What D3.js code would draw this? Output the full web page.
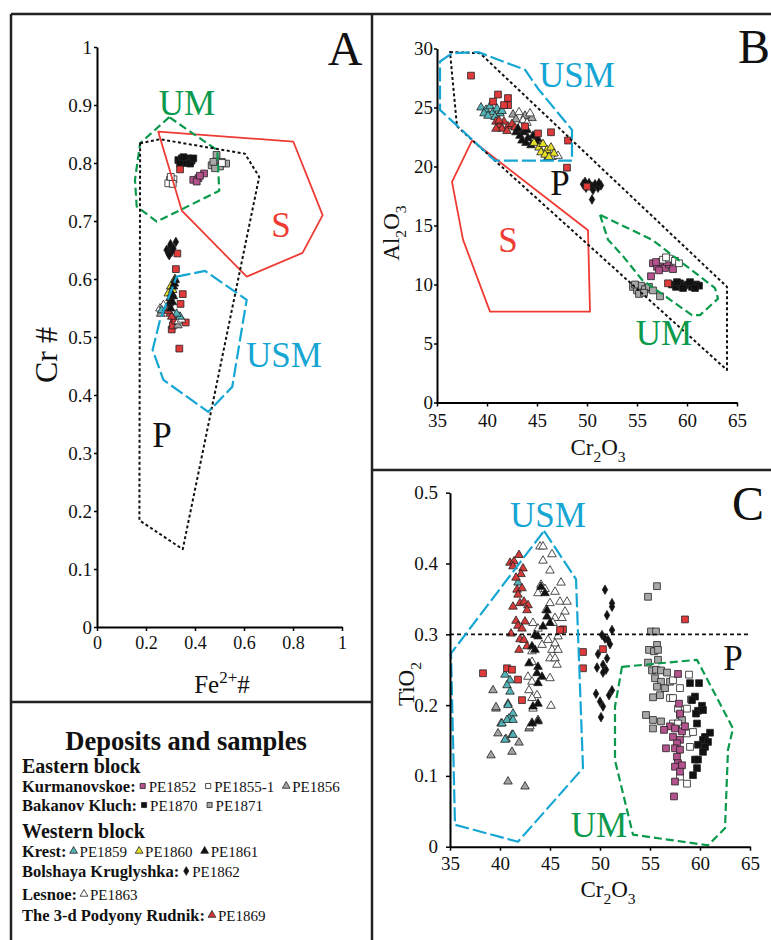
<!DOCTYPE html>
<html>
<head>
<meta charset="utf-8">
<script src="https://cdn.jsdelivr.net/npm/d3@7"></script>
<style>
body { margin: 0; background: #fff; }
text { font-family: "Liberation Serif", "Times New Roman", serif; }
</style>
</head>
<body>
<svg id="fig"></svg>
<script>
var W = 771, H = 940;

// ---- tick values ----
var A_X_TICKS = [0, 0.2, 0.4, 0.6, 0.8, 1];
var A_Y_TICKS = [0, 0.1, 0.2, 0.3, 0.4, 0.5, 0.6, 0.7, 0.8, 0.9, 1];
var B_X_TICKS = [35, 40, 45, 50, 55, 60, 65];
var B_Y_TICKS = [0, 5, 10, 15, 20, 25, 30];
var C_X_TICKS = [35, 40, 45, 50, 55, 60, 65];
var C_Y_TICKS = [0, 0.1, 0.2, 0.3, 0.4, 0.5];

// ---- fields (Fe2+# vs Cr#) ----
var A_UM = [[0.295,0.879],[0.176,0.834],[0.155,0.771],[0.162,0.725],[0.244,0.699],[0.499,0.752],[0.491,0.822]];
var A_S = [[0.250,0.854],[0.801,0.837],[0.921,0.710],[0.839,0.645],[0.611,0.604],[0.346,0.718]];
var A_P = [[0.176,0.834],[0.257,0.841],[0.604,0.816],[0.662,0.776],[0.350,0.134],[0.173,0.184]];
var A_USM = [[0.325,0.604],[0.441,0.614],[0.611,0.564],[0.597,0.529],[0.552,0.414],[0.454,0.371],[0.271,0.426],[0.227,0.478],[0.257,0.529]];

// ---- fields (Cr2O3 vs Al2O3) ----
var B_USM = [[35.3,28.9],[36.5,29.6],[39.1,29.7],[43.8,28.2],[45.1,26.6],[48.5,23.1],[48.5,20.5],[40.8,20.5],[35.3,24.8]];
var B_P = [[36.3,29.7],[39.3,29.6],[64.0,9.8],[64.0,2.75],[37.0,23.4]];
var B_S = [[38.5,22.2],[50.1,14.6],[50.3,7.7],[40.3,7.7],[37.6,13.8],[36.5,18.7]];
var B_UM = [[51.3,15.9],[52.1,13.8],[53.6,12.4],[55.5,10.4],[60.5,7.4],[61.3,7.4],[63.1,8.8],[62.8,9.7],[56.5,13.8]];

// ---- fields (Cr2O3 vs TiO2) ----
var C_USM = [[44.4,0.446],[47.6,0.378],[48.3,0.111],[41.8,0.007],[35.5,0.031],[35.1,0.273]];
var C_UM = [[52.2,0.254],[59.7,0.264],[63.3,0.167],[62.8,0.137],[62.5,0.026],[60.8,0.002],[53.3,0.017],[51.5,0.122],[51.5,0.198]];
var C_LIMIT = 0.3;

// ---- samples, panel A ----
var A_PE1870 = [[0.332,0.805],[0.346,0.808],[0.359,0.805],[0.373,0.808],[0.386,0.804],[0.339,0.799],[0.366,0.800],[0.380,0.799],[0.353,0.810],[0.393,0.808]];
var A_RED = [[0.339,0.789],[0.328,0.644],[0.322,0.617],[0.350,0.574],[0.341,0.557],[0.314,0.525],[0.362,0.525],[0.305,0.513],[0.336,0.480],[0.310,0.520],[0.320,0.528]];
var A_PE1855 = [[0.298,0.771],[0.312,0.772],[0.291,0.765],[0.309,0.764],[0.301,0.776],[0.510,0.800]];
var A_PE1852 = [[0.393,0.771],[0.414,0.774],[0.437,0.782],[0.407,0.768],[0.420,0.778]];
var A_PE1871 = [[0.468,0.796],[0.488,0.799],[0.502,0.794],[0.482,0.791],[0.527,0.799],[0.488,0.814],[0.509,0.802],[0.475,0.802]];
var A_PE1862 = [[0.322,0.664],[0.298,0.656],[0.284,0.650],[0.305,0.647],[0.291,0.644],[0.312,0.653],[0.295,0.641],[0.300,0.660]];
var A_PE1861 = [[0.319,0.598],[0.312,0.587],[0.305,0.575],[0.298,0.567],[0.312,0.570],[0.295,0.558],[0.301,0.549],[0.316,0.592],[0.308,0.560]];
var A_PE1860 = [[0.301,0.587],[0.291,0.575],[0.309,0.581],[0.318,0.600]];
var A_PE1859 = [[0.264,0.546],[0.339,0.535],[0.325,0.540],[0.285,0.550]];
var A_PE1863 = [[0.257,0.549],[0.271,0.555],[0.332,0.527],[0.345,0.530]];
var A_PE1856 = [[0.260,0.540],[0.330,0.520]];
var A_PE1869 = [[0.298,0.540],[0.305,0.535],[0.290,0.545]];

// ---- samples, panel B ----
var B_RED = [[38.4,27.7],[41.1,26.1],[40.6,25.5],[42.1,25.8],[42.1,25.2],[41.7,25.2],[43.8,23.4],[45.1,22.8],[46.4,22.9],[48.1,22.2],[48.0,19.9],[50.0,18.3],[58.1,10.1]];
var B_PE1859 = [[39.4,25.0],[39.9,24.8],[40.3,25.1],[40.6,24.6],[41.0,24.9],[41.3,24.5],[39.7,24.5],[40.1,24.3],[40.8,24.2],[41.5,24.7]];
var B_PE1869 = [[40.9,23.8],[41.3,23.5],[41.7,23.8],[42.1,23.4],[41.5,23.2],[42.5,23.6],[40.9,23.2],[42.0,23.0],[42.8,23.3],[41.2,23.9]];
var B_PE1856 = [[42.6,24.4],[43.8,24.3],[42.9,24.0],[44.5,24.1]];
var B_PE1863 = [[43.2,24.6],[44.3,24.5],[43.6,23.9],[44.0,23.7],[43.3,23.4],[46.5,20.8],[47.1,20.9]];
var B_PE1861 = [[42.9,22.9],[43.3,22.6],[43.7,22.9],[44.1,22.4],[43.5,22.2],[44.6,22.6],[44.9,22.1],[43.9,22.0],[44.4,21.8],[45.1,22.3],[43.1,23.2],[44.0,23.1],[46.1,20.8]];
var B_PE1860 = [[44.7,22.0],[45.2,21.6],[45.6,21.9],[46.0,21.4],[45.4,21.2],[46.4,21.6],[46.7,21.1],[45.8,21.0],[46.2,20.8]];
var B_PE1862 = [[49.6,18.5],[49.9,18.2],[50.2,18.6],[50.5,18.3],[50.8,18.5],[51.1,18.2],[51.4,18.4],[49.8,18.7],[50.6,18.0],[51.2,18.6],[50.5,17.2]];
var B_PE1852 = [[56.6,11.8],[57.0,11.5],[57.4,11.9],[57.8,11.4],[58.2,11.7],[58.6,11.3],[57.2,11.2],[58.0,11.9],[56.9,11.9],[56.4,10.7]];
var B_PE1855 = [[57.6,12.1],[58.2,12.2],[58.8,12.0],[59.2,11.8],[57.9,12.3]];
var B_PE1870 = [[58.5,10.0],[58.9,9.8],[59.3,10.1],[59.7,9.9],[60.1,10.0],[60.5,9.8],[60.9,10.0],[61.2,9.9],[59.0,10.2],[60.3,10.2],[59.6,9.7],[60.8,9.7]];
var B_PE1871 = [[54.6,9.8],[55.0,9.5],[55.4,9.9],[55.8,9.6],[56.2,9.8],[56.6,9.5],[55.2,9.2],[54.8,10.0],[55.7,9.3],[57.3,9.0]];

// ---- samples, panel C ----
var C_PE1869 = [[41.0,0.401],[41.4,0.403],[41.9,0.412],[41.3,0.396],[42.3,0.393],[42.1,0.385],[41.6,0.380],[41.7,0.363],[42.2,0.365],[41.8,0.356],[41.3,0.339],[42.0,0.344],[42.4,0.346],[42.8,0.341],[42.7,0.334],[41.6,0.319],[41.8,0.312],[42.5,0.318],[42.2,0.308],[41.1,0.301],[42.0,0.293],[42.4,0.292],[41.9,0.278],[42.7,0.283]];
var C_RED = [[38.3,0.245],[40.7,0.252],[41.2,0.250],[41.8,0.236],[42.2,0.207],[46.3,0.307],[46.0,0.306],[58.5,0.321],[50.3,0.279],[48.3,0.275],[48.3,0.252]];
var C_PE1863 = [[44.0,0.424],[44.3,0.424],[45.2,0.413],[44.3,0.404],[45.0,0.390],[46.1,0.373],[44.1,0.370],[44.5,0.364],[43.8,0.358],[45.5,0.360],[46.0,0.346],[46.7,0.346],[45.0,0.344],[44.6,0.334],[46.5,0.332],[45.5,0.323],[46.2,0.323],[45.3,0.316],[43.3,0.316],[43.8,0.308],[45.8,0.297],[44.8,0.292],[44.2,0.285],[45.5,0.287],[45.2,0.278],[45.8,0.278],[43.2,0.276],[45.0,0.266],[45.5,0.266],[43.2,0.261],[45.7,0.257],[42.8,0.240],[45.0,0.238],[43.2,0.233],[42.9,0.221],[43.7,0.214],[43.2,0.210],[43.8,0.179],[43.0,0.170],[43.2,0.175],[45.1,0.199],[43.3,0.195]];
var C_PE1856 = [[39.3,0.221],[39.6,0.195],[39.6,0.197],[40.8,0.202],[40.1,0.174],[39.8,0.160],[40.6,0.152],[41.2,0.158],[41.2,0.134],[41.9,0.147],[39.1,0.129],[40.8,0.092],[42.5,0.085],[42.9,0.167]];
var C_PE1859 = [[41.8,0.373],[40.5,0.243],[41.0,0.235],[40.7,0.228],[41.0,0.219],[40.8,0.200],[41.3,0.188],[40.9,0.181],[40.2,0.174],[40.7,0.179],[41.3,0.179],[41.3,0.158],[40.5,0.151]];
var C_PE1861 = [[44.1,0.367],[44.5,0.358],[44.7,0.325],[44.3,0.311],[43.5,0.299],[43.8,0.297],[43.2,0.283],[43.5,0.278],[42.9,0.259],[43.8,0.254],[43.7,0.245],[44.2,0.240],[43.8,0.231],[43.3,0.198],[43.8,0.202],[45.0,0.316],[44.7,0.334],[43.8,0.177],[43.2,0.174]];
var C_PE1862 = [[50.5,0.363],[51.2,0.344],[51.2,0.339],[50.7,0.327],[51.2,0.306],[50.2,0.299],[50.5,0.294],[50.8,0.292],[51.0,0.286],[49.8,0.272],[50.7,0.266],[50.3,0.257],[49.7,0.253],[50.6,0.250],[50.3,0.246],[51.2,0.221],[50.9,0.214],[49.6,0.216],[50.0,0.205],[50.3,0.198],[50.1,0.183]];
var C_PE1871 = [[55.7,0.368],[54.8,0.353],[55.1,0.304],[55.6,0.304],[55.7,0.285],[54.9,0.278],[55.4,0.276],[55.8,0.278],[55.8,0.264],[54.8,0.260],[55.2,0.249],[55.6,0.250],[56.1,0.249],[56.7,0.246],[55.5,0.238],[56.1,0.233],[55.7,0.226],[56.5,0.224],[55.3,0.211],[56.0,0.214],[54.6,0.186],[55.3,0.179],[56.1,0.177],[55.3,0.167],[57.0,0.233],[58.0,0.186],[58.2,0.179]];
var C_PE1855 = [[57.3,0.235],[58.0,0.224],[58.9,0.243],[57.0,0.210],[57.3,0.210],[58.7,0.195],[57.8,0.195],[59.1,0.208],[57.3,0.174],[57.8,0.174],[58.3,0.167],[58.7,0.160],[59.3,0.162],[59.0,0.141],[58.0,0.099],[58.7,0.089]];
var C_PE1852 = [[57.8,0.244],[57.9,0.202],[58.0,0.188],[57.0,0.170],[56.4,0.165],[57.5,0.167],[58.2,0.163],[58.5,0.170],[57.3,0.155],[58.0,0.151],[57.7,0.146],[56.6,0.139],[57.5,0.139],[58.0,0.137],[57.7,0.127],[57.8,0.118],[57.5,0.113],[58.2,0.115],[58.0,0.106],[57.5,0.092],[57.4,0.071]];
var C_PE1870 = [[59.0,0.231],[59.9,0.231],[59.5,0.212],[59.2,0.207],[60.2,0.199],[59.8,0.192],[60.3,0.193],[59.6,0.188],[59.7,0.174],[60.5,0.155],[61.0,0.161],[60.3,0.151],[59.8,0.144],[60.8,0.148],[60.5,0.141],[60.3,0.134],[59.5,0.123],[59.8,0.123],[59.7,0.111],[59.3,0.101]];

// sample symbols
var SYM = {
  PE1852: { shape: d3.symbolSquare, fill: "#b4538e" },
  PE1855: { shape: d3.symbolSquare, fill: "#ffffff" },
  PE1856: { shape: d3.symbolTriangle, fill: "#a3a3a3" },
  PE1870: { shape: d3.symbolSquare, fill: "#111111" },
  PE1871: { shape: d3.symbolSquare, fill: "#a8a8a8" },
  PE1859: { shape: d3.symbolTriangle, fill: "#52b4b8" },
  PE1860: { shape: d3.symbolTriangle, fill: "#e6df2a" },
  PE1861: { shape: d3.symbolTriangle, fill: "#111111" },
  PE1862: { shape: d3.symbolDiamond, fill: "#111111" },
  PE1863: { shape: d3.symbolTriangle, fill: "#ffffff" },
  PE1869: { shape: d3.symbolTriangle, fill: "#d33a3a" },
  RED: { shape: d3.symbolSquare, fill: "#e03a3a" }
};

var GREEN = "#0b9a4c", CYAN = "#16a6d4", RED = "#ef3b33";
var SERIF = '"Liberation Serif", "Times New Roman", serif';

var svg = d3.select("#fig").attr("width", W).attr("height", H).attr("font-family", SERIF);

function symPath(s) {
  var size = s.shape === d3.symbolSquare ? 46 : s.shape === d3.symbolDiamond ? 26 : 32;
  return d3.symbol().type(s.shape).size(size)();
}

function drawPoints(g, x, y, pts, key) {
  var s = SYM[key];
  g.append("g").selectAll("path").data(pts).enter().append("path")
    .attr("d", symPath(s))
    .attr("transform", function(d) { return "translate(" + x(d[0]) + "," + y(d[1]) + ")"; })
    .attr("fill", s.fill)
    .attr("stroke", "#222")
    .attr("stroke-width", 0.8);
}

function drawField(g, x, y, pts, color, dash, width) {
  var line = d3.line().x(function(d) { return x(d[0]); }).y(function(d) { return y(d[1]); });
  g.append("path")
    .attr("d", line(pts) + "Z")
    .attr("fill", "none")
    .attr("stroke", color)
    .attr("stroke-width", width)
    .attr("stroke-dasharray", dash)
    .attr("stroke-linejoin", "round");
}

function label(g, txt, px, py, color, size) {
  g.append("text").attr("x", px).attr("y", py).attr("text-anchor", "middle")
    .attr("font-size", size || 35).attr("fill", color).text(txt);
}

// text with sub/superscripts: parts = [[str, shift]] shift 1 = sub, -1 = sup
function rich(t, parts, fs) {
  var cur = 0;
  parts.forEach(function(p) {
    var off = p[1] === 1 ? fs * 0.3 : p[1] === -1 ? -fs * 0.42 : 0;
    t.append("tspan").attr("dy", off - cur).attr("font-size", p[1] ? fs * 0.68 : fs).text(p[0]);
    cur = off;
  });
}

function styleAxis(a) {
  a.attr("font-family", SERIF);
  a.select(".domain").attr("stroke", "#000").attr("stroke-width", 2);
  a.selectAll(".tick line").attr("stroke", "#000").attr("stroke-width", 1.5);
  a.selectAll(".tick text").attr("fill", "#111");
}

function fmt(d) { return d === 0 ? "0" : d === 1 ? "1" : String(d); }

// ---------- frame ----------
var frame = svg.append("g").attr("stroke", "#222").attr("stroke-width", 2.5);
frame.append("line").attr("x1", 11).attr("y1", 14).attr("x2", W).attr("y2", 14);
frame.append("line").attr("x1", 11).attr("y1", 14).attr("x2", 11).attr("y2", H);
frame.append("line").attr("x1", 372).attr("y1", 14).attr("x2", 372).attr("y2", H);
frame.append("line").attr("x1", 11).attr("y1", 702).attr("x2", 372).attr("y2", 702);
frame.append("line").attr("x1", 372).attr("y1", 470).attr("x2", W).attr("y2", 470);

// ---------- panel A ----------
var xA = d3.scaleLinear().domain([0, 1]).range([97, 342]);
var yA = d3.scaleLinear().domain([0, 1]).range([627, 47]);
var gA = svg.append("g");

[["PE1871", A_PE1871], ["PE1855", A_PE1855], ["PE1852", A_PE1852], ["PE1870", A_PE1870],
 ["RED", A_RED], ["PE1862", A_PE1862], ["PE1856", A_PE1856], ["PE1863", A_PE1863],
 ["PE1859", A_PE1859], ["PE1869", A_PE1869], ["PE1860", A_PE1860], ["PE1861", A_PE1861]]
  .forEach(function(s) { drawPoints(gA, xA, yA, s[1], s[0]); });

drawField(gA, xA, yA, A_S, RED, null, 1.8);
drawField(gA, xA, yA, A_UM, GREEN, "8,4", 2.2);
drawField(gA, xA, yA, A_P, "#111", "3,2.5", 2);
drawField(gA, xA, yA, A_USM, CYAN, "14,4", 2.2);

var axAx = gA.append("g").attr("transform", "translate(0,627)")
  .call(d3.axisBottom(xA).tickValues(A_X_TICKS).tickFormat(fmt).tickSize(4).tickSizeOuter(0).tickPadding(5));
axAx.attr("font-size", 18);
styleAxis(axAx);
var axAy = gA.append("g").attr("transform", "translate(97,0)")
  .call(d3.axisLeft(yA).tickValues(A_Y_TICKS).tickFormat(fmt).tickSize(3).tickSizeOuter(0).tickPadding(2));
axAy.attr("font-size", 19);
styleAxis(axAy);

gA.append("text").attr("transform", "translate(57,355) rotate(-90)").attr("text-anchor", "middle")
  .attr("font-size", 32).attr("fill", "#111").text("Cr #");
rich(gA.append("text").attr("x", 222).attr("y", 693).attr("text-anchor", "middle").attr("fill", "#111"),
  [["Fe", 0], ["2+", -1], ["#", 0]], 25);

label(gA, "UM", 187, 115, GREEN);
label(gA, "S", 281, 237, RED);
label(gA, "USM", 284, 367, CYAN);
label(gA, "P", 162, 447, "#111");
gA.append("text").attr("x", 345).attr("y", 65).attr("text-anchor", "middle").attr("font-size", 48).attr("fill", "#111").text("A");

// ---------- panel B ----------
var xB = d3.scaleLinear().domain([35, 65]).range([437, 737]);
var yB = d3.scaleLinear().domain([0, 30]).range([402.5, 48.5]);
var gB = svg.append("g");

[["PE1871", B_PE1871], ["PE1852", B_PE1852], ["PE1855", B_PE1855], ["PE1870", B_PE1870],
 ["PE1862", B_PE1862], ["PE1859", B_PE1859], ["PE1856", B_PE1856], ["PE1863", B_PE1863],
 ["PE1869", B_PE1869], ["PE1861", B_PE1861], ["PE1860", B_PE1860], ["RED", B_RED]]
  .forEach(function(s) { drawPoints(gB, xB, yB, s[1], s[0]); });

drawField(gB, xB, yB, B_S, RED, null, 1.8);
drawField(gB, xB, yB, B_UM, GREEN, "8,4", 2.2);
drawField(gB, xB, yB, B_P, "#111", "3,2.5", 2);
drawField(gB, xB, yB, B_USM, CYAN, "14,4", 2.2);

var axBx = gB.append("g").attr("transform", "translate(0,402.5)")
  .call(d3.axisBottom(xB).tickValues(B_X_TICKS).tickSize(4).tickSizeOuter(0).tickPadding(7));
axBx.attr("font-size", 19);
styleAxis(axBx);
var axBy = gB.append("g").attr("transform", "translate(437,0)")
  .call(d3.axisLeft(yB).tickValues(B_Y_TICKS).tickSize(3).tickSizeOuter(0).tickPadding(1));
axBy.attr("font-size", 19);
styleAxis(axBy);

rich(gB.append("text").attr("x", 598).attr("y", 455).attr("text-anchor", "middle").attr("fill", "#111"),
  [["Cr", 0], ["2", 1], ["O", 0], ["3", 1]], 23);
rich(gB.append("text").attr("transform", "translate(399,233) rotate(-90)").attr("text-anchor", "middle").attr("fill", "#111"),
  [["Al", 0], ["2", 1], ["O", 0], ["3", 1]], 23);

label(gB, "USM", 577, 87, CYAN);
label(gB, "P", 560, 195, "#111");
label(gB, "S", 508, 252, RED);
label(gB, "UM", 664, 345, GREEN);
gB.append("text").attr("x", 754).attr("y", 63).attr("text-anchor", "middle").attr("font-size", 48).attr("fill", "#111").text("B");

// ---------- panel C ----------
var xC = d3.scaleLinear().domain([35, 65]).range([450, 750]);
var yC = d3.scaleLinear().domain([0, 0.5]).range([846.7, 492.7]);
var gC = svg.append("g");

[["PE1871", C_PE1871], ["PE1855", C_PE1855], ["PE1852", C_PE1852], ["PE1870", C_PE1870],
 ["PE1862", C_PE1862], ["PE1856", C_PE1856], ["PE1863", C_PE1863], ["PE1859", C_PE1859],
 ["PE1869", C_PE1869], ["PE1861", C_PE1861], ["RED", C_RED]]
  .forEach(function(s) { drawPoints(gC, xC, yC, s[1], s[0]); });

gC.append("line").attr("x1", xC(35)).attr("x2", xC(65)).attr("y1", yC(C_LIMIT)).attr("y2", yC(C_LIMIT))
  .attr("stroke", "#111").attr("stroke-width", 1.8).attr("stroke-dasharray", "4,3");
drawField(gC, xC, yC, C_UM, GREEN, "8,4", 2.2);
drawField(gC, xC, yC, C_USM, CYAN, "14,4", 2.2);

var axCx = gC.append("g").attr("transform", "translate(0,846.7)")
  .call(d3.axisBottom(xC).tickValues(C_X_TICKS).tickSize(4).tickSizeOuter(0).tickPadding(6));
axCx.attr("font-size", 19);
styleAxis(axCx);
var axCy = gC.append("g").attr("transform", "translate(450,0)")
  .call(d3.axisLeft(yC).tickValues(C_Y_TICKS).tickFormat(fmt).tickSize(4).tickSizeOuter(0).tickPadding(8));
axCy.attr("font-size", 19);
styleAxis(axCy);

rich(gC.append("text").attr("x", 608).attr("y", 897).attr("text-anchor", "middle").attr("fill", "#111"),
  [["Cr", 0], ["2", 1], ["O", 0], ["3", 1]], 23);
rich(gC.append("text").attr("transform", "translate(414,684) rotate(-90)").attr("text-anchor", "middle").attr("fill", "#111"),
  [["TiO", 0], ["2", 1]], 23);

label(gC, "USM", 548, 527, CYAN);
label(gC, "P", 733, 670, "#111");
label(gC, "UM", 599, 837, GREEN);
gC.append("text").attr("x", 748).attr("y", 520).attr("text-anchor", "middle").attr("font-size", 48).attr("fill", "#111").text("C");

// ---------- legend ----------
var LEGEND_ROWS = [
  { y: 792, name: "Kurmanovskoe:", items: [["PE1852", "PE1852"], ["PE1855", "PE1855-1"], ["PE1856", "PE1856"]] },
  { y: 811, name: "Bakanov Kluch:", items: [["PE1870", "PE1870"], ["PE1871", "PE1871"]] },
  { y: 857, name: "Krest:", items: [["PE1859", "PE1859"], ["PE1860", "PE1860"], ["PE1861", "PE1861"]] },
  { y: 877, name: "Bolshaya Kruglyshka:", items: [["PE1862", "PE1862"]] },
  { y: 900, name: "Lesnoe:", items: [["PE1863", "PE1863"]] },
  { y: 921, name: "The 3-d Podyony Rudnik:", items: [["PE1869", "PE1869"]] }
];
var gL = svg.append("g").attr("fill", "#111");
gL.append("text").attr("x", 186).attr("y", 750).attr("text-anchor", "middle")
  .attr("font-size", 26.5).attr("font-weight", "bold").text("Deposits and samples");
gL.append("text").attr("x", 22).attr("y", 773).attr("font-size", 20).attr("font-weight", "bold").text("Eastern block");
gL.append("text").attr("x", 22).attr("y", 838).attr("font-size", 20).attr("font-weight", "bold").text("Western block");

LEGEND_ROWS.forEach(function(r) {
  var t = gL.append("text").attr("x", 22).attr("y", r.y).attr("font-size", 16.5).attr("font-weight", "bold").text(r.name);
  var cx = 22 + t.node().getComputedTextLength() + 3;
  r.items.forEach(function(it) {
    var s = SYM[it[0]];
    var sz = s.shape === d3.symbolDiamond ? 22 : 26;
    gL.append("path").attr("d", d3.symbol().type(s.shape).size(sz)())
      .attr("transform", "translate(" + (cx + 4) + "," + (r.y - 6) + ")")
      .attr("fill", s.fill).attr("stroke", "#222").attr("stroke-width", 0.8);
    var lt = gL.append("text").attr("x", cx + 10).attr("y", r.y).attr("font-size", 15).text(it[1]);
    cx = cx + 10 + lt.node().getComputedTextLength() + 8;
  });
});
</script>
</body>
</html>
